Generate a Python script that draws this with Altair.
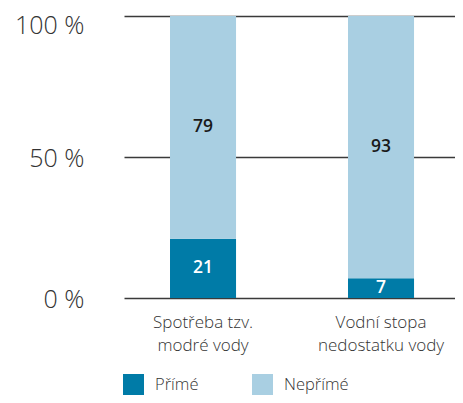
import altair as alt
import pandas as pd

categories = ["Spotřeba tzv.\nmodré vody", "Vodní stopa\nnedostatku vody"]
series = ["Přímé", "Nepřímé"]
prime = [21, 7]
neprime = [79, 93]
colors = ["#007BA7", "#A9CFE2"]
label_colors = ["#FFFFFF", "#1a1a1a"]

rows = []
for i, c in enumerate(categories):
    rows.append({"cat": c, "series": series[0], "value": prime[i], "ord": 0})
    rows.append({"cat": c, "series": series[1], "value": neprime[i], "ord": 1})
df = pd.DataFrame(rows)

FONT = "Open Sans"

x = alt.X("cat:N", sort=categories,
          scale=alt.Scale(paddingInner=0.629, paddingOuter=0.2443, align=0.529),
          axis=alt.Axis(title=None, labelAngle=0, domain=False, ticks=False,
                        labelExpr="split(datum.value, '\\n')",
                        labelFontSize=17, labelColor="#333333", labelFont=FONT,
                        labelFontWeight=300,
                        labelLineHeight=23, labelPadding=16))

base = alt.Chart(df)

bars = base.mark_bar().encode(
    x=x,
    y=alt.Y("value:Q", stack="zero",
            scale=alt.Scale(domain=[0, 100]),
            axis=alt.Axis(title=None, values=[0, 50, 100], labelExpr="datum.value + ' %'",
                          domain=False, ticks=False, grid=True, gridColor="#3a3a3a",
                          gridWidth=1.3, gridOpacity=1, labelFontSize=25, labelColor="#333333",
                          labelFont=FONT, labelFontWeight=300, labelPadding=40,
                          labelOffset=alt.condition("datum.value == 100", alt.value(9), alt.value(1.5)))),
    color=alt.Color("series:N", sort=series,
                    scale=alt.Scale(domain=series, range=colors),
                    legend=alt.Legend(title=None, orient="none", legendX=-1, legendY=358,
                                      direction="horizontal", columns=2, columnPadding=53,
                                      symbolType="square", symbolSize=441, symbolStrokeWidth=0,
                                      symbolOpacity=1, labelFontSize=16.5, labelFont=FONT,
                                      labelFontWeight=300,
                                      labelColor="#333333", labelOffset=11)),
    order=alt.Order("ord:Q"),
)

texts = base.transform_stack(
    stack="value", groupby=["cat"], as_=["y0", "y1"], sort=[alt.SortField("ord")]
).transform_calculate(
    mid="(datum.y0 + datum.y1) / 2"
).mark_text(fontSize=17.5, fontWeight=600, font=FONT, baseline="middle").encode(
    x=alt.X("cat:N", sort=categories),
    y=alt.Y("mid:Q"),
    text=alt.Text("value:Q"),
    color=alt.Color("series:N", scale=alt.Scale(domain=series, range=label_colors), legend=None),
)

chart = alt.layer(bars, texts).resolve_scale(color="independent").properties(
    width=331, height=282,
    autosize=alt.AutoSizeParams(type="none"),
    padding={"left": 116, "top": 8, "right": 0, "bottom": 97},
).configure_view(stroke=None)

chart.save("out.html", embed_options={"renderer": "svg", "actions": False})
